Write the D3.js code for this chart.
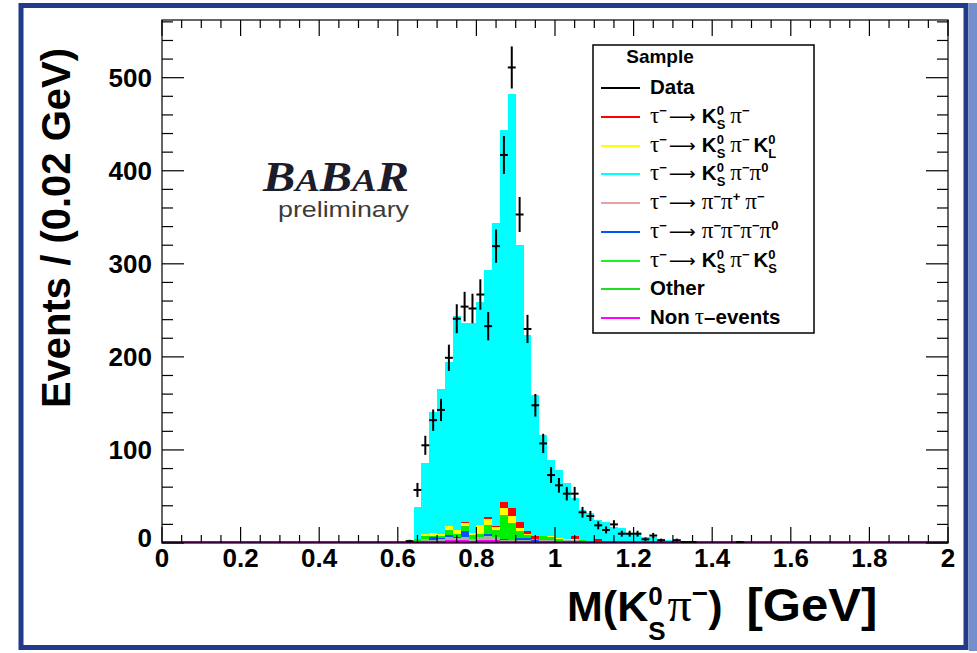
<!DOCTYPE html>
<html><head><meta charset="utf-8">
<script src="https://cdn.jsdelivr.net/npm/d3@7"></script>
<style>html,body{margin:0;padding:0;background:#fff;} svg{display:block}</style>
</head><body>
<svg id="c" width="977" height="653"></svg>
<script>
// ---- data (bin centres, 0.02 GeV bins) ----
const binCenters = [0.63,0.65,0.67,0.69,0.71,0.73,0.75,0.77,0.79,0.81,0.83,0.85,0.87,0.89,0.91,0.93,0.95,0.97,0.99,1.01,1.03,1.05,1.07,1.09,1.11,1.13,1.15,1.17,1.19,1.21,1.23,1.25,1.27,1.29,1.31,1.33,1.35,1.37,1.39,1.41,1.43,1.45,1.47,1.49];
const dataCounts = [2,57,105,132,143,199,241,254,252,267,233,319,417,511,353,230,148,107,73,62,53,53,33,29,19,14,20,10,10,10,4,8,3,0,3,1,1,0,0,0,0,0,1,0];
const mcTotal    = [0,39,86,141,165,195,244,236,236,259,293,344,444,482,320,224,159,116,89,78,65,48,35,32,25,23,17,16,11,10,6,6,4,3,3,2,2,1,0,2,2,0,1,0];
const nonTau  = [0,1,2.5,2.5,2.5,3.5,3,3.5,2.5,3.6,3.6,3.6,2.5,2.5,2.5,2.5,2,2,2,1.5,1.5,1.5,1,1,1,1,1,1,0.5,0.5,0.5,0.5,0.5,0,0,0,0,0,0,0,0,0,0,0];
const pi3     = [0,1,2,1,1.5,2.5,2,3,1.5,2.5,3.6,3,0.5,0.5,1,0.5,0.5,1,1,1,1.5,2,1,1,1,1,0,0,0,0,0,0,0,0,0,0,0,0,0,0,0,0,1,0];
const pi3Pi0  = [0,0,0,2.5,1,3,1,6.5,0.5,0,2.5,0,1,0.5,1.5,2,0.5,0,0,0,0,0,0,0,0,0,0,0,0,0,0,0,0,0,0,0,0,0,0,0,0,0,0,0];
const ksPiKs  = [0,2,2.5,2,2.5,4.4,4,4.7,4,3.6,9,6.5,24,16.5,7,3.6,1,4.5,3.5,1.5,0,0,1,0,0,0,0,0,0,0,0,0,0,0,0,0,0,0,0,0,0,0,0,0];
const other   = [0,0,0,0,0,1,0,1,0,0,1,1,2,1,1,0,0,0,0,0,0,0,0,0,0,0,0,0,0,0,0,0,0,0,0,0,0,0,0,0,0,0,0,0];
const ksPiKl  = [0,0,2.5,3,2,3.6,4,2.5,2.5,10,6.5,3.6,8,8.2,3,1.4,0.5,0.5,0.5,1,1.5,1,0,0,0,0,0.5,0,0,0,0,0,0,0,0,0,0,0,0,0,0,0,0,0];
const ksPi    = [0,0,0,0,0,0.5,0,1,0,0,1.4,1,5.7,8.6,7,2.9,2.5,0,0,0,0,2.5,0,0,2,0,0,1.5,0,0,0,0,0,0,0,0,0,0,0,2,2,0,0,0];
const xMajorTicks = [0,0.2,0.4,0.6,0.8,1,1.2,1.4,1.6,1.8,2];
const yMajorTicks = [0,100,200,300,400,500];
const binWidth = 0.02;

const W=977,H=653;
const F={l:162,r:948,t:20,b:543};
const x=d3.scaleLinear().domain([0,2]).range([F.l,F.r]);
const y=d3.scaleLinear().domain([0,562]).range([F.b,F.t]);
const SANS="'Liberation Sans', Arial, Helvetica, sans-serif";
const SERIF="'Liberation Serif', 'DejaVu Serif', serif";
const svg=d3.select('#c');

svg.append('rect').attr('width',W).attr('height',H).attr('fill','#fff');
// outer border
svg.append('rect').attr('x',969).attr('y',3).attr('width',8).attr('height',648).attr('fill','#7390cc');
svg.append('rect').attr('x',21).attr('y',5.5).attr('width',945).attr('height',642).attr('fill','none').attr('stroke','#223a8c').attr('stroke-width',5);

// BaBar logo
const bb=svg.append('text').attr('x',263).attr('y',191).attr('font-family',SERIF).attr('font-style','italic').attr('font-weight','bold').attr('fill','#1c1c2a')
  .attr('textLength',146).attr('lengthAdjust','spacingAndGlyphs');
[['B',42],['A',32],['B',42],['A',32],['R',42]].forEach(([t,s])=>bb.append('tspan').attr('font-size',s).text(t));
svg.append('text').attr('x',278).attr('y',217).attr('font-family',SANS).attr('font-size',22).attr('fill','#3c3c3c')
  .attr('textLength',131).attr('lengthAdjust','spacingAndGlyphs').text('preliminary');

// stacked MC
const keys=['nonTau','pi3','pi3Pi0','ksPiKs','other','ksPiKl','ksPi','ksPiPi0'];
const fills={nonTau:'#ff00ff',pi3:'#a3b3a3',pi3Pi0:'#0055ff',ksPiKs:'#00f000',other:'#22e022',ksPiKl:'#ffff00',ksPi:'#ff0000',ksPiPi0:'#00ffff'};
const table=binCenters.map((c,i)=>{
  const s=nonTau[i]+pi3[i]+pi3Pi0[i]+ksPiKs[i]+other[i]+ksPiKl[i]+ksPi[i];
  return {c,nonTau:nonTau[i],pi3:pi3[i],pi3Pi0:pi3Pi0[i],ksPiKs:ksPiKs[i],other:other[i],ksPiKl:ksPiKl[i],ksPi:ksPi[i],ksPiPi0:Math.max(0,mcTotal[i]-s)};
});
const series=d3.stack().keys(keys)(table);
const hg=svg.append('g');
series.forEach(s=>{
  hg.selectAll(null).data(s.filter(d=>d[1]>d[0])).join('rect')
    .attr('x',d=>Math.round(x(d.data.c-binWidth/2)))
    .attr('width',d=>Math.round(x(d.data.c+binWidth/2))-Math.round(x(d.data.c-binWidth/2)))
    .attr('y',d=>y(d[1])).attr('height',d=>y(d[0])-y(d[1]))
    .attr('fill',fills[s.key]).attr('shape-rendering','crispEdges');
});
// non-tau outline along baseline
svg.append('line').attr('x1',x(0)).attr('x2',x(2)).attr('y1',y(0)-1).attr('y2',y(0)-1).attr('stroke','#a000a0').attr('stroke-width',2);

// frame + ticks
const ax=svg.append('g').attr('stroke','#000').attr('stroke-width',1.2);
ax.append('rect').attr('x',F.l).attr('y',F.t).attr('width',F.r-F.l).attr('height',F.b-F.t).attr('fill','none');
const xMinor=x.ticks(40), yMinor=y.ticks(28);
xMinor.forEach(v=>{
  const major=xMajorTicks.some(m=>Math.abs(m-v)<1e-6); const L=major?16:8;
  ax.append('line').attr('x1',x(v)).attr('x2',x(v)).attr('y1',F.b).attr('y2',F.b-L);
  ax.append('line').attr('x1',x(v)).attr('x2',x(v)).attr('y1',F.t).attr('y2',F.t+L);
});
yMinor.forEach(v=>{
  const major=yMajorTicks.includes(v); const L=major?22:11;
  ax.append('line').attr('x1',F.l).attr('x2',F.l+L).attr('y1',y(v)).attr('y2',y(v));
  ax.append('line').attr('x1',F.r).attr('x2',F.r-L).attr('y1',y(v)).attr('y2',y(v));
});
// tick labels
const tl=svg.append('g').attr('font-family',SANS).attr('font-weight','bold').attr('font-size',26).attr('fill','#000');
xMajorTicks.forEach(v=>tl.append('text').attr('x',x(v)).attr('y',567).attr('text-anchor','middle').text(String(+v.toFixed(1))));
yMajorTicks.forEach(v=>tl.append('text').attr('x',152).attr('y',y(v)+(v===0?4:9)).attr('text-anchor','end').text(String(v)));

// data points
const dg=svg.append('g').attr('stroke','#000').attr('stroke-width',2);
binCenters.forEach((c,i)=>{
  const n=dataCounts[i]; if(!(n>0)) return;
  const e=Math.sqrt(n);
  dg.append('line').attr('x1',x(c-binWidth/2)).attr('x2',x(c+binWidth/2)).attr('y1',y(n)).attr('y2',y(n));
  dg.append('line').attr('x1',x(c)).attr('x2',x(c)).attr('y1',y(Math.max(0,n-e))).attr('y2',y(n+e));
});

// rich text helper
function rich(g,x0,yb,parts){
  let cx=x0,stackW=0;
  for(const p of parts){
    const t=g.append('text').attr('x',cx).attr('y',yb+(p.dy||0))
      .attr('font-family',p.fam||(p.serif?SERIF:SANS)).attr('font-weight',(p.serif||p.fam)?'normal':'bold')
      .attr('font-size',p.size).attr('fill','#000').text(p.t);
    if(p.w) t.attr('textLength',p.w).attr('lengthAdjust','spacingAndGlyphs');
    const w=p.w||t.node().getComputedTextLength();
    if(p.stack) stackW=Math.max(stackW,w);
    else {cx+=Math.max(w,stackW)+(p.gap||0); stackW=0;}
  }
  return cx;
}

// axis titles
svg.append('text').attr('transform','translate(70,228) rotate(-90)').attr('text-anchor','middle')
  .attr('font-family',SANS).attr('font-weight','bold').attr('font-size',40).text('Events / (0.02 GeV)');
const xt=svg.append('g');
rich(xt,567,621,[
  {t:'M(K',size:43},{t:'0',size:26,dy:-16,stack:true},{t:'S',size:26,dy:19,gap:2},
  {t:'π',size:48,serif:true},{t:'−',size:28,dy:-18},{t:')',size:43,gap:24},{t:'[GeV]',size:46,w:131}
]);

// legend
const lg=svg.append('g');
lg.append('rect').attr('x',593).attr('y',45).attr('width',221).attr('height',288).attr('fill','#fff').attr('stroke','#000').attr('stroke-width',1.5);
lg.append('text').attr('x',660).attr('y',63).attr('text-anchor','middle').attr('font-family',SANS).attr('font-weight','bold').attr('font-size',19).text('Sample');
const S=20.5, s=13, G=23;
const tau=[{t:'τ',size:G,serif:true},{t:'−',size:s,dy:-8,gap:2},{t:'⟶',size:18,fam:"'DejaVu Sans', sans-serif",w:27,gap:6}];
const Ks0=[{t:'K',size:S},{t:'0',size:s,dy:-8,stack:true},{t:'S',size:s,dy:6,gap:5}];
const piM=(g)=>[{t:'π',size:G,serif:true},{t:'−',size:s,dy:-8,gap:g||0}];
const entries=[
  {y:88,color:'#000',parts:[{t:'Data',size:S}]},
  {y:117,color:'#ff0000',parts:[...tau,...Ks0,...piM()]},
  {y:146,color:'#ffff00',parts:[...tau,...Ks0,...piM(4),{t:'K',size:S},{t:'0',size:s,dy:-8,stack:true},{t:'L',size:s,dy:6}]},
  {y:174,color:'#00ffff',parts:[...tau,...Ks0,...piM(),{t:'π',size:G,serif:true},{t:'0',size:s,dy:-8}]},
  {y:203,color:'#e3a3a3',parts:[...tau,...piM(),{t:'π',size:G,serif:true},{t:'+',size:s,dy:-8,gap:5},...piM()]},
  {y:232,color:'#0055ff',parts:[...tau,...piM(),...piM(),...piM(),{t:'π',size:G,serif:true},{t:'0',size:s,dy:-8}]},
  {y:261,color:'#22ee22',parts:[...tau,...Ks0,...piM(4),{t:'K',size:S},{t:'0',size:s,dy:-8,stack:true},{t:'S',size:s,dy:6}]},
  {y:289,color:'#22dd22',parts:[{t:'Other',size:S}]},
  {y:318,color:'#ff00ff',parts:[{t:'Non',size:S,gap:5},{t:'τ',size:G,serif:true},{t:'–events',size:S}]}
];
entries.forEach(e=>{
  lg.append('line').attr('x1',601).attr('x2',640).attr('y1',e.y).attr('y2',e.y).attr('stroke',e.color).attr('stroke-width',2);
  rich(lg,650,e.y+6,e.parts);
});
</script>
</body></html>
